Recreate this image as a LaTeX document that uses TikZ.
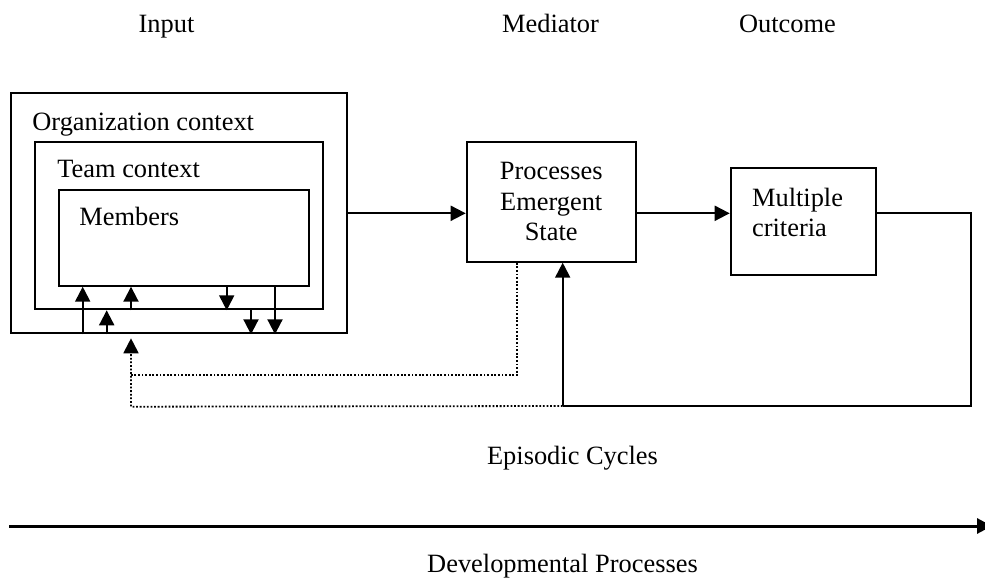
\documentclass[tikz,border=0pt]{standalone}
\usepackage{fontspec}
\setmainfont{Liberation Serif}
\usetikzlibrary{arrows.meta, calc, positioning}
\tikzstyle{box} = [rectangle, line width=1pt, draw=black, inner sep=0pt]
\tikzstyle{lbl} = [inner sep=0pt, font=\fontsize{13.2}{15.3}\selectfont]
\tikzstyle{arrow} = [line width=1pt, -{Triangle[length=7.5pt, width=7.5pt]}]
\tikzstyle{link} = [line width=1pt]
\tikzstyle{dotline} = [line width=0.9pt, dash pattern=on 0.9pt off 0.9pt]

\begin{document}
\begin{tikzpicture}[x=0.5pt, y=-0.5pt]
		\useasboundingbox (0,0) rectangle (985,578);
		% stage titles
		\node (Input) [lbl, anchor=base] at (166.5,32.3) {Input};
		\node (Mediator) [lbl, anchor=base] at (550.5,32.3) {Mediator};
		\node (Outcome) [lbl, anchor=base] at (787.5,32.3) {Outcome};
		% nested input boxes
		\node (Org) [box, minimum width=168pt, minimum height=120pt] at (178.7,213.3) {};
		\node (Team) [box, minimum width=143.8pt, minimum height=83.8pt] at (178.9,225.5) {};
		\node (Members) [box, minimum width=125.2pt, minimum height=47.8pt] at (184.2,237.9) {};
		\node (OrgText) [lbl, anchor=base west] at (32,130) {Organization context};
		\node (TeamText) [lbl, anchor=base west] at (57,177.7) {Team context};
		\node (MembersText) [lbl, anchor=base west] at (79,225) {Members};
		% mediator and outcome
		\node (Processes) [box, lbl, align=center, minimum width=84.5pt, minimum height=60pt] at (551.2,201.7) {Processes\\Emergent\\State};
		\node (Criteria) [box, minimum width=72.5pt, minimum height=53.3pt] at (803.2,221.7) {};
		\node (CriteriaText) [lbl, align=left, anchor=north west] at (751.7,187.5) {Multiple\\criteria};
		\node (Episodic) [lbl, anchor=base] at (572.5,464) {Episodic Cycles};
		\node (Developmental) [lbl, anchor=base] at (562.5,572) {Developmental Processes};
		% helper coordinates
		\coordinate (Row) at (0,213.3);
		\coordinate (FbCorner) at (971,406);
		\coordinate (Fb) at (562.7,406);
		\coordinate (DotA) at (517,375);
		\coordinate (DotB) at (131,406.7);
		\coordinate (DevStart) at (9.3,526);
		\coordinate (DevEnd) at (992,526);
		\coordinate (U1) at (82.7,0);
		\coordinate (U2) at (106.7,0);
		\coordinate (U3) at (131,0);
		\coordinate (D1) at (226.7,0);
		\coordinate (D2) at (251,0);
		\coordinate (D3) at (275,0);
		% main flow
		\draw [arrow] (Org.east) -- (Org.east -| Processes.west);
		\draw [arrow] (Row -| Processes.east) -- (Row -| Criteria.west);
		\draw [link] (Row -| Criteria.east) -| (FbCorner) -- (Fb);
		\draw [arrow] (Fb) -- (Fb |- Processes.south);
		% arrows between levels
		\draw [arrow] (U1 |- Org.south) -- (U1 |- Members.south);
		\draw [arrow] (U2 |- Org.south) -- (U2 |- Team.south);
		\draw [arrow] (U3 |- Team.south) -- (U3 |- Members.south);
		\draw [arrow] (D1 |- Members.south) -- (D1 |- Team.south);
		\draw [arrow] (D2 |- Team.south) -- (D2 |- Org.south);
		\draw [arrow] (D3 |- Members.south) -- (D3 |- Org.south);
		% episodic feedback
		\draw [dotline] (DotA |- Processes.south) -- (DotA) -- (DotA -| DotB);
		\draw [dotline, -{Triangle[length=7.5pt, width=7.5pt]}] (Fb) -- (DotB) -- ($(DotB |- Org.south)+(0,4)$);
		\draw [line width=1.5pt, -{Triangle[length=7.5pt, width=7.5pt]}] (DevStart) -- (DevEnd);
\end{tikzpicture}
\end{document}
